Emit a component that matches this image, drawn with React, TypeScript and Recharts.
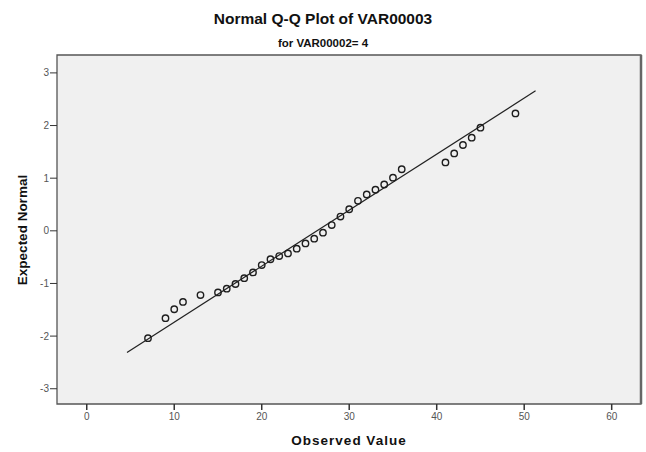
import React from "react";
import {
  ComposedChart,
  Scatter,
  XAxis,
  YAxis,
  ReferenceArea,
  ReferenceLine,
} from "recharts";

const observed = [
  7, 9, 10, 11, 13, 15, 16, 17, 18, 19, 20, 21, 22, 23, 24, 25, 26, 27, 28, 29,
  30, 31, 32, 33, 34, 35, 36, 41, 42, 43, 44, 45, 49,
];
const expected = [
  -2.04, -1.66, -1.49, -1.35, -1.22, -1.17, -1.1, -1.01, -0.9, -0.79, -0.65,
  -0.54, -0.48, -0.43, -0.34, -0.24, -0.15, -0.035, 0.11, 0.27, 0.41, 0.57,
  0.69, 0.78, 0.88, 1.01, 1.17, 1.3, 1.47, 1.63, 1.77, 1.96, 2.23,
];

// reference line end points
const lineX = [4.6, 51.3];
const lineY = [-2.31, 2.66];

const xTicks = [0, 10, 20, 30, 40, 50, 60];
const yTicks = [-3, -2, -1, 0, 1, 2, 3];

const X_DOMAIN: [number, number] = [-3.4, 63.35];
const Y_DOMAIN: [number, number] = [-3.29, 3.34];

const FONT = '"Liberation Sans", Arial, sans-serif';

const points = observed.map((x, i) => ({ x, y: expected[i] }));
const fitLine = lineX.map((x, i) => ({ x, y: lineY[i] }));

const OpenCircle = (props: any) => (
  <circle
    cx={props.cx}
    cy={props.cy}
    r={3.2}
    fill="none"
    stroke="#1e1e1e"
    strokeWidth={1.4}
  />
);

const tickStyle = { fontSize: 10, fill: "#555", fontFamily: FONT };

export default function App() {
  return (
    <div
      style={{
        position: "absolute",
        left: 0,
        top: 0,
        width: 646,
        height: 452,
        background: "#fff",
        fontFamily: FONT,
      }}
    >
      <div
        style={{
          position: "absolute",
          left: 0,
          width: 646,
          top: 10,
          textAlign: "center",
          fontSize: 15.5,
          fontWeight: "bold",
          color: "#111",
        }}
      >
        Normal Q-Q Plot of VAR00003
      </div>
      <div
        style={{
          position: "absolute",
          left: 0,
          width: 646,
          top: 37,
          textAlign: "center",
          fontSize: 11.5,
          fontWeight: "bold",
          color: "#111",
        }}
      >
        for VAR00002= 4
      </div>
      <div
        style={{
          position: "absolute",
          left: 22,
          top: 230,
          transform: "translate(-50%, -50%) rotate(-90deg)",
          whiteSpace: "nowrap",
          fontSize: 13.5,
          fontWeight: "bold",
          color: "#111",
        }}
      >
        Expected Normal
      </div>
      <div
        style={{
          position: "absolute",
          left: 57,
          width: 584,
          top: 433,
          textAlign: "center",
          fontSize: 13.5,
          fontWeight: "bold",
          letterSpacing: 1,
          color: "#111",
        }}
      >
        Observed Value
      </div>
      <div style={{ position: "absolute", left: 0, top: 0 }}>
        <ComposedChart
          width={646}
          height={452}
          margin={{ top: 55, right: 5, bottom: 0, left: 0 }}
        >
          <XAxis
            type="number"
            dataKey="x"
            domain={X_DOMAIN}
            ticks={xTicks}
            allowDataOverflow
            height={48}
            axisLine={false}
            tickSize={6}
            tickMargin={3}
            tickLine={{ stroke: "#333", strokeWidth: 1.5 }}
            tick={tickStyle}
          />
          <YAxis
            type="number"
            dataKey="y"
            domain={Y_DOMAIN}
            ticks={yTicks}
            allowDataOverflow
            width={57}
            axisLine={false}
            tickSize={7}
            tickMargin={1}
            tickLine={{ stroke: "#333", strokeWidth: 1 }}
            tick={tickStyle}
          />
          <ReferenceArea
            x1={X_DOMAIN[0]}
            x2={X_DOMAIN[1]}
            y1={Y_DOMAIN[0]}
            y2={Y_DOMAIN[1]}
            fill="#f0f0f0"
            fillOpacity={1}
            stroke="#555"
            strokeWidth={1.3}
            ifOverflow="visible"
          />
          <ReferenceLine
            x={X_DOMAIN[1]}
            stroke="#666"
            strokeWidth={2.5}
            ifOverflow="visible"
          />
          <Scatter
            data={fitLine}
            line={{ stroke: "#222", strokeWidth: 1.2 }}
            shape={() => <g />}
            isAnimationActive={false}
          />
          <Scatter
            data={points}
            shape={OpenCircle}
            isAnimationActive={false}
          />
        </ComposedChart>
      </div>
    </div>
  );
}
